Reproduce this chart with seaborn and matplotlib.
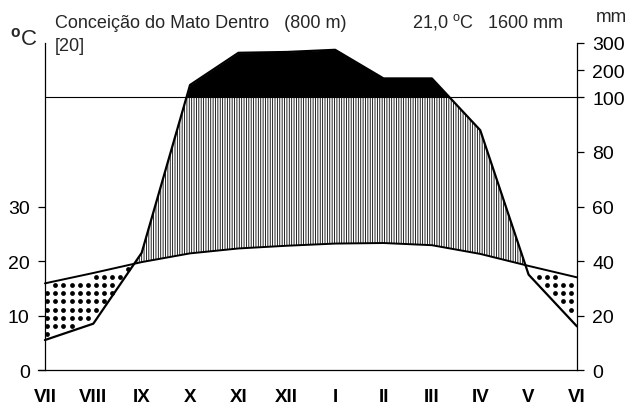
import numpy as np
import pandas as pd
import matplotlib
matplotlib.use("Agg")
import matplotlib.pyplot as plt
import seaborn as sns

# ---------------- data ----------------
months = ["VII", "VIII", "IX", "X", "XI", "XII", "I", "II", "III", "IV", "V", "VI"]
temperature = [15.9, 17.8, 19.8, 21.4, 22.3, 22.8, 23.2, 23.3, 22.9, 21.3, 19.1, 17.0]   # °C
precipitation = [11, 17, 43, 146, 264, 267, 275, 170, 170, 88, 35, 16]                   # mm
temp_ticks = [0, 10, 20, 30]
precip_ticks = [0, 20, 40, 60, 80, 100, 200, 300]
station = "Conceição do Mato Dentro"
altitude = "(800 m)"
years = "[20]"
mean_temp = "21,0"
annual_precip = "1600 mm"

# ---------------- style ----------------
sns.set_theme(style="white")
plt.rcParams["font.family"] = ["Liberation Sans", "DejaVu Sans"]
plt.rcParams["mathtext.fontset"] = "custom"
plt.rcParams["mathtext.rm"] = "Liberation Sans"
plt.rcParams["mathtext.bf"] = "Liberation Sans:bold"
plt.rcParams["hatch.linewidth"] = 0.6


def scale_mm(mm):
    mm = np.asarray(mm, dtype=float)
    return np.where(mm <= 100, mm / 2.0, 50 + (mm - 100) / 20.0)


df = pd.DataFrame({
    "pos": np.arange(len(months)),
    "month": months,
    "temp": temperature,
    "prec": scale_mm(precipitation),
})

fig = plt.figure(figsize=(6.33, 4.10), dpi=100)
ax = fig.add_axes([0.0603, 0.0951, 0.8512, 0.7976])

# dense grid for fills
xs = np.linspace(0, len(months) - 1, 2201)
t_d = np.interp(xs, df["pos"], df["temp"])
p_d = np.interp(xs, df["pos"], df["prec"])

# humid period: vertical hatching
ax.fill_between(xs, t_d, np.minimum(p_d, 50), where=p_d > t_d, interpolate=True,
                facecolor="white", edgecolor="black", hatch="|||||||", linewidth=0, zorder=1)
# perhumid period: black
ax.fill_between(xs, 50, p_d, where=p_d > 50, interpolate=True,
                facecolor="black", edgecolor="black", linewidth=0, zorder=2)

# arid period: dots
gx, gy = np.meshgrid(np.arange(0.05, len(months) - 1 + 0.01, 1 / 6), np.arange(0.6, 60, 1.5))
gx = gx.ravel(); gy = gy.ravel()
gt = np.interp(gx, df["pos"], df["temp"])
gp = np.interp(gx, df["pos"], df["prec"])
inside = (gy > gp + 0.6) & (gy < gt - 0.5)
ax.scatter(gx[inside], gy[inside], s=12, color="black", linewidths=0, zorder=3)

# 100 mm line
ax.plot([0, len(months) - 1], [50, 50], color="black", lw=0.8, zorder=4)

# curves
sns.lineplot(data=df, x="pos", y="temp", color="black", lw=1.4, ax=ax, zorder=5)
sns.lineplot(data=df, x="pos", y="prec", color="black", lw=1.6, ax=ax, zorder=5)

ax.set_xlim(-0.14, len(months) - 1)
ax.set_ylim(0, 60)
ax.set_xlabel("")
ax.set_ylabel("")
ax.spines["top"].set_visible(False)
ax.spines["right"].set_visible(False)
ax.spines["left"].set_position(("data", 0))
for s in ["left", "bottom"]:
    ax.spines[s].set_color("black")
    ax.spines[s].set_linewidth(0.9)

ax.set_xticks(df["pos"])
ax.set_xticklabels(months, fontsize=13.5, fontweight="bold")
ax.tick_params(axis="x", direction="in", length=4, width=0.9, pad=13, colors="black")
ax.set_yticks(temp_ticks)
ax.set_yticklabels([str(v) for v in temp_ticks], fontsize=14)
ax.tick_params(axis="y", direction="out", length=5, width=0.9, pad=6, colors="black", left=True)

ax2 = ax.twinx()
ax2.set_position(ax.get_position())
ax2.set_ylim(0, 60)
ax2.set_yticks(scale_mm(precip_ticks))
ax2.set_yticklabels([str(v) for v in precip_ticks], fontsize=14)
ax2.tick_params(axis="y", direction="out", length=5, width=0.9, pad=6, colors="black", right=True)
for s in ["top", "left", "bottom"]:
    ax2.spines[s].set_visible(False)
ax2.spines["right"].set_color("black")
ax2.spines["right"].set_linewidth(0.9)

# texts
fig.text(55 / 633, 1 - 28 / 410, f"{station}   {altitude}", fontsize=13, va="baseline", ha="left")
fig.text(55 / 633, 1 - 51 / 410, years, fontsize=13, va="baseline", ha="left")
fig.text(10 / 633, 1 - 45 / 410, r"$^{\mathbf{o}}$C", fontsize=16, va="baseline", ha="left")
fig.text(412 / 633, 1 - 27 / 410, mean_temp + r" $^{\mathrm{o}}$C   " + annual_precip,
         fontsize=13, va="baseline", ha="left")
fig.text(596 / 633, 1 - 22 / 410, "mm", fontsize=13.5, va="baseline", ha="left")

fig.savefig("out.png", dpi=100)
